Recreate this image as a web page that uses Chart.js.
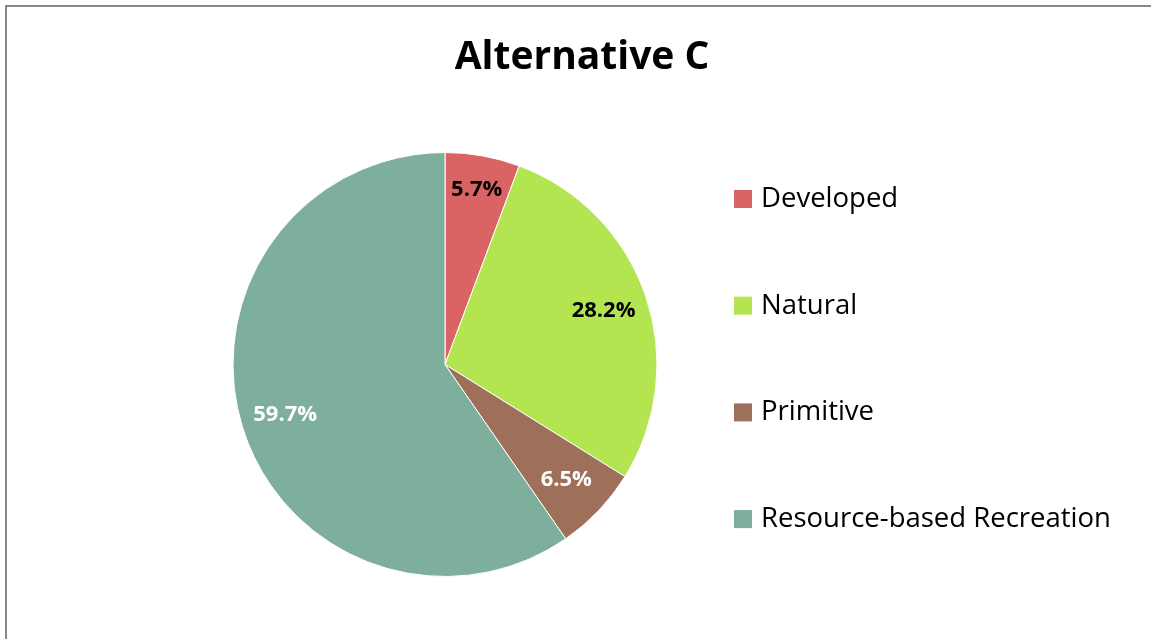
<!DOCTYPE html>
<html>
<head>
<meta charset="utf-8">
<script src="https://cdn.jsdelivr.net/npm/chart.js@4/dist/chart.umd.min.js"></script>
<style>
  html, body { margin: 0; padding: 0; background: #fff; overflow: hidden; }
  #wrap { position: relative; width: 1151px; height: 639px; }
  #frame {
    position: absolute; left: 5px; top: 5px; width: 2000px; height: 2000px;
    border-left: 2px solid #888; border-top: 2px solid #888; pointer-events: none;
  }
  canvas { position: absolute; left: 0; top: 0; }
</style>
</head>
<body>
<div id="wrap">
  <canvas id="pieChart" width="1151" height="639"></canvas>
  <div id="frame"></div>
</div>
<script>
// データ
const chartTitle = 'Alternative C';
const categories = ['Developed', 'Natural', 'Primitive', 'Resource-based Recreation'];
const percentValues = [5.7, 28.2, 6.5, 59.7];
const sliceColors = ['#DA6464', '#B3E550', '#9E705A', '#7EAF9D'];
const labelColors = ['#000', '#000', '#fff', '#fff'];

const FONT = '"Open Sans", "Noto Sans", sans-serif';

// タイトル・凡例・ラベルを描くプラグイン
const decoPlugin = {
  id: 'deco',
  afterDraw(chart) {
    const ctx = chart.ctx;
    ctx.save();

    // title
    ctx.fillStyle = '#000';
    ctx.font = 'bold 39px ' + FONT;
    ctx.textAlign = 'center';
    ctx.textBaseline = 'middle';
    ctx.fillText(chartTitle, 582, 58);

    // slice labels
    const meta = chart.getDatasetMeta(0);
    ctx.font = 'bold 22px ' + FONT;
    meta.data.forEach((arc, i) => {
      const mid = (arc.startAngle + arc.endAngle) / 2;
      const r = arc.outerRadius * (i === 0 ? 0.84 : 0.79);
      const x = arc.x + Math.cos(mid) * r;
      const y = arc.y + Math.sin(mid) * r;
      ctx.fillStyle = labelColors[i];
      ctx.fillText(percentValues[i].toFixed(1) + '%', x, y);
    });

    // legend
    ctx.textAlign = 'left';
    ctx.font = '27.5px ' + FONT;
    categories.forEach((name, i) => {
      const cy = 199 + i * 106.7;
      ctx.fillStyle = sliceColors[i];
      ctx.fillRect(734, cy - 9, 18, 18);
      ctx.fillStyle = '#000';
      ctx.fillText(name, 761, cy);
    });

    ctx.restore();
  }
};

const ctx1 = document.getElementById('pieChart').getContext('2d');

new Chart(ctx1, {
  type: 'pie',
  data: {
    labels: categories,
    datasets: [{
      data: percentValues,
      backgroundColor: sliceColors,
      borderColor: '#fff',
      borderWidth: 1
    }]
  },
  options: {
    responsive: false,
    animation: false,
    layout: {
      padding: { left: 232, right: 493, top: 152, bottom: 62 }
    },
    plugins: {
      legend: { display: false },
      tooltip: { enabled: false }
    }
  },
  plugins: [decoPlugin]
});
</script>
</body>
</html>
